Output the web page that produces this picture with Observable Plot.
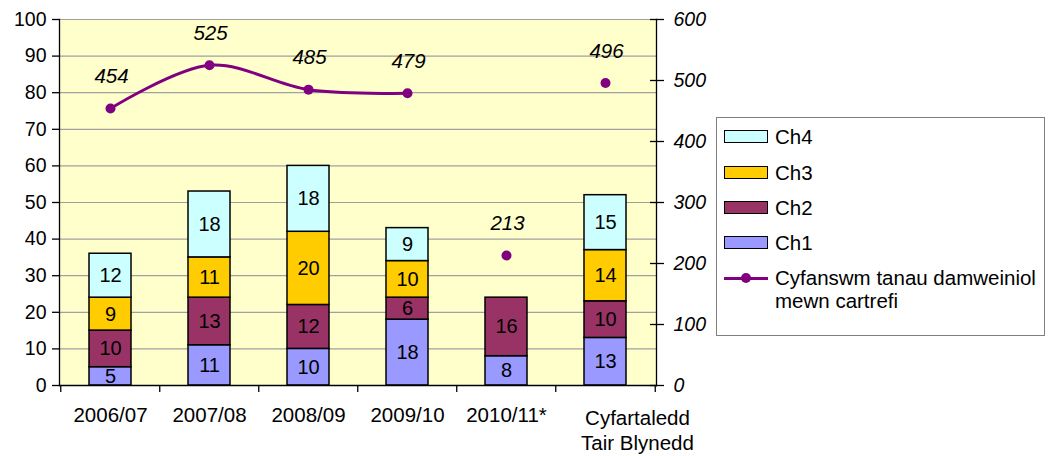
<!DOCTYPE html>
<html>
<head>
<meta charset="utf-8">
<script src="https://cdn.jsdelivr.net/npm/d3@7"></script>
<script src="https://cdn.jsdelivr.net/npm/@observablehq/plot@0.6"></script>
<style>
  html, body { margin: 0; padding: 0; background: white; }
  #wrap { position: relative; width: 1050px; height: 456px; font-family: "Liberation Sans", Arial, sans-serif; }
  #legend { position: absolute; left: 716px; top: 117px; width: 329px; height: 219px; border: 1.5px solid #7f7f7f; background: white; box-sizing: border-box; font-size: 20.5px; color: black; }
  .row { position: absolute; left: 7px; height: 0; }
  .sw { position: absolute; left: 0; top: -7px; width: 44px; height: 13px; border: 1.5px solid black; box-sizing: border-box; }
  .lab { position: absolute; left: 51px; top: -12px; white-space: nowrap; line-height: 23px; }
  .ln { position: absolute; left: 0; top: -1.5px; width: 44px; height: 3px; background: #800080; }
  .dt { position: absolute; left: 17px; top: -5px; width: 10px; height: 10px; border-radius: 5px; background: #800080; }
</style>
</head>
<body>
<div id="wrap"><div id="chart"></div><div id="legend"></div></div>
<script>
const categories = ["2006/07", "2007/08", "2008/09", "2009/10", "2010/11*", "Cyfartaledd\nTair Blynedd"];
const ch1 = [5, 11, 10, 18, 8, 13];
const ch2 = [10, 13, 12, 6, 16, 10];
const ch3 = [9, 11, 20, 10, null, 14];
const ch4 = [12, 18, 18, 9, null, 15];
const totals = [454, 525, 485, 479, 213, 496];
const lineGroup = ["a", "a", "a", "a", "b", "c"];
const seriesNames = ["Ch1", "Ch2", "Ch3", "Ch4"];
const seriesColors = ["#9999FF", "#993366", "#FFCC00", "#CCFFFF"];
const lineName = "Cyfanswm tanau damweiniol\nmewn cartrefi";
const lineColor = "#800080";
const leftTicks = [0, 10, 20, 30, 40, 50, 60, 70, 80, 90, 100];
const rightTicks = [0, 100, 200, 300, 400, 500, 600];
const leftMax = 100, rightMax = 600;

const seriesValues = [ch1, ch2, ch3, ch4];
const barData = [];
categories.forEach((c, i) => {
  seriesNames.forEach((s, k) => {
    const v = seriesValues[k][i];
    if (v != null) barData.push({cat: c, series: s, value: v});
  });
});
const lineData = categories.map((c, i) => ({cat: c, total: totals[i], y: totals[i] * leftMax / rightMax, g: lineGroup[i]}));
const rightPos = rightTicks.map(v => v * leftMax / rightMax);

const W = 1050, H = 456, mL = 59, mR = 394, mT = 19, mB = 71;
const step = (W - mL - mR) / categories.length;

const chart = Plot.plot({
  width: W, height: H,
  marginLeft: mL, marginRight: mR, marginTop: mT, marginBottom: mB,
  style: {fontFamily: "Liberation Sans, Arial, sans-serif", fontSize: "19px", color: "black", background: "white", overflow: "visible"},
  x: {domain: categories, paddingInner: 0.58, paddingOuter: 0.29, axis: null},
  y: {domain: [0, leftMax], axis: null},
  color: {domain: seriesNames, range: seriesColors},
  marks: [
    Plot.frame({fill: "#FFFFCC", stroke: null}),
    Plot.gridY(leftTicks.filter(d => d > 0), {stroke: "#a0a0a0", strokeOpacity: 1, strokeWidth: 1.2}),
    Plot.barY(barData, {x: "cat", y: "value", fill: "series", stroke: "black", strokeWidth: 1.5}),
    Plot.text(barData, Plot.stackY({x: "cat", y: "value", text: d => String(d.value), fontSize: 20, fill: "black"})),
    Plot.frame({anchor: "left", stroke: "black", strokeWidth: 1.3}),
    Plot.frame({anchor: "right", stroke: "black", strokeWidth: 1.3}),
    Plot.frame({anchor: "bottom", stroke: "black", strokeWidth: 1.3}),
    // left axis
    Plot.axisY(leftTicks, {anchor: "left", tickSize: 7, tickPadding: 6, fontSize: 19.5, label: null, strokeWidth: 1.3}),
    // right axis (ticks cross the axis line)
    Plot.axisY(rightPos, {anchor: "right", tickSize: 7, tickPadding: 10, fontSize: 19.5, fontStyle: "italic", label: null, strokeWidth: 1.3, tickFormat: d => String(Math.round(d * rightMax / leftMax))}),
    Plot.axisY(rightPos, {anchor: "right", tickSize: 7, dx: -7, label: null, strokeWidth: 1.3, tickFormat: () => ""}),
    // x axis: boundary ticks + labels
    Plot.axisX(categories, {anchor: "bottom", tickSize: 7, dx: -step / 2, label: null, strokeWidth: 1.3, tickFormat: () => ""}),
    Plot.axisX(categories.slice(-1), {anchor: "bottom", tickSize: 7, dx: step / 2, label: null, strokeWidth: 1.3, tickFormat: () => ""}),
    Plot.axisX(categories.slice(0, -1), {anchor: "bottom", tickSize: 0, tickPadding: 22, fontSize: 20.5, label: null}),
    Plot.axisX(categories.slice(-1), {anchor: "bottom", tickSize: 0, tickPadding: 22, fontSize: 20.5, lineHeight: 1.22, dx: 32, label: null}),
    // line series
    Plot.line(lineData, {x: "cat", y: "y", z: "g", stroke: lineColor, strokeWidth: 3, curve: "catmull-rom"}),
    Plot.dot(lineData, {x: "cat", y: "y", r: 5, fill: lineColor, stroke: null}),
    Plot.text(lineData, {x: "cat", y: "y", text: d => String(d.total), dy: -32, dx: 1, fontSize: 20.5, fontStyle: "italic", fill: "black"})
  ]
});
document.getElementById("chart").appendChild(chart);

// legend
const legend = document.getElementById("legend");
const rowTops = [19, 54.5, 90, 125, 160];
const entries = seriesNames.map((s, k) => ({name: s, color: seriesColors[k], type: "bar"})).reverse();
entries.push({name: lineName, color: lineColor, type: "line"});
entries.forEach((e, i) => {
  const row = document.createElement("div");
  row.className = "row";
  row.style.top = rowTops[i] + "px";
  if (e.type === "bar") {
    const sw = document.createElement("div");
    sw.className = "sw";
    sw.style.background = e.color;
    row.appendChild(sw);
  } else {
    const ln = document.createElement("div");
    ln.className = "ln";
    const dt = document.createElement("div");
    dt.className = "dt";
    row.appendChild(ln);
    row.appendChild(dt);
  }
  const lab = document.createElement("div");
  lab.className = "lab";
  lab.innerHTML = e.name.split("\n").join("<br>");
  row.appendChild(lab);
  legend.appendChild(row);
});
</script>
</body>
</html>
